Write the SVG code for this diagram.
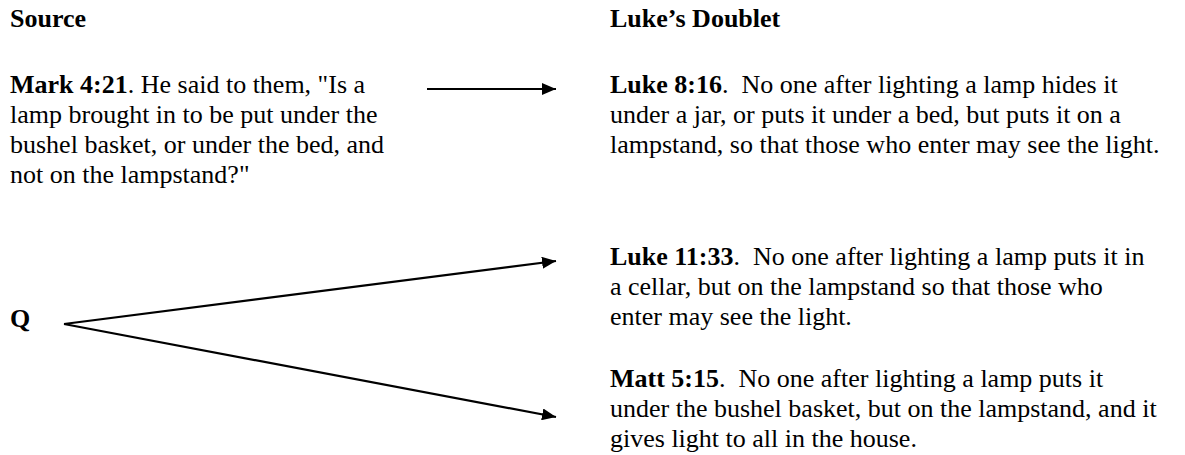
<svg xmlns="http://www.w3.org/2000/svg" width="1185" height="455" viewBox="0 0 1185 455">
<style>
text{font-family:"Liberation Serif","Times New Roman",serif;font-size:26px;fill:#000;white-space:pre}
.b{font-weight:bold}
.c{stroke:#000;stroke-width:2.2;fill:none}
</style>
<defs>
<marker id="ah" viewBox="0 0 14 12" refX="14" refY="6" markerWidth="14" markerHeight="12" markerUnits="userSpaceOnUse" orient="auto">
<path d="M0,0 L14,6 L0,12 z" fill="#000"/>
</marker>
</defs>
<rect width="1185" height="455" fill="#fff"/>
<g id="hdr-source"><text x="10" y="27" class="b">Source</text></g>
<g id="hdr-doublet"><text x="610" y="27" class="b">Luke’s Doublet</text></g>
<g id="mark">
<text x="10" y="93"><tspan class="b">Mark 4:21</tspan>. He said to them, "Is a</text>
<text x="10" y="123">lamp brought in to be put under the</text>
<text x="10" y="153">bushel basket, or under the bed, and</text>
<text x="10" y="183">not on the lampstand?"</text>
</g>
<g id="luke816">
<text x="610" y="93" xml:space="preserve"><tspan class="b">Luke 8:16</tspan>.  No one after lighting a lamp hides it</text>
<text x="610" y="123">under a jar, or puts it under a bed, but puts it on a</text>
<text x="610" y="153">lampstand, so that those who enter may see the light.</text>
</g>
<g id="q"><text x="10" y="327" class="b">Q</text></g>
<g id="luke1133">
<text x="610" y="265" xml:space="preserve"><tspan class="b">Luke 11:33</tspan>.  No one after lighting a lamp puts it in</text>
<text x="610" y="295">a cellar, but on the lampstand so that those who</text>
<text x="610" y="325">enter may see the light.</text>
</g>
<g id="matt515">
<text x="610" y="387" xml:space="preserve"><tspan class="b">Matt 5:15</tspan>.  No one after lighting a lamp puts it</text>
<text x="610" y="417">under the bushel basket, but on the lampstand, and it</text>
<text x="610" y="447">gives light to all in the house.</text>
</g>
<g id="connectors">
<line class="c" x1="427" y1="89" x2="556" y2="89" marker-end="url(#ah)"/>
<line class="c" x1="64" y1="324" x2="556" y2="261" marker-end="url(#ah)"/>
<line class="c" x1="64" y1="324" x2="556" y2="417" marker-end="url(#ah)"/>
</g>
</svg>
